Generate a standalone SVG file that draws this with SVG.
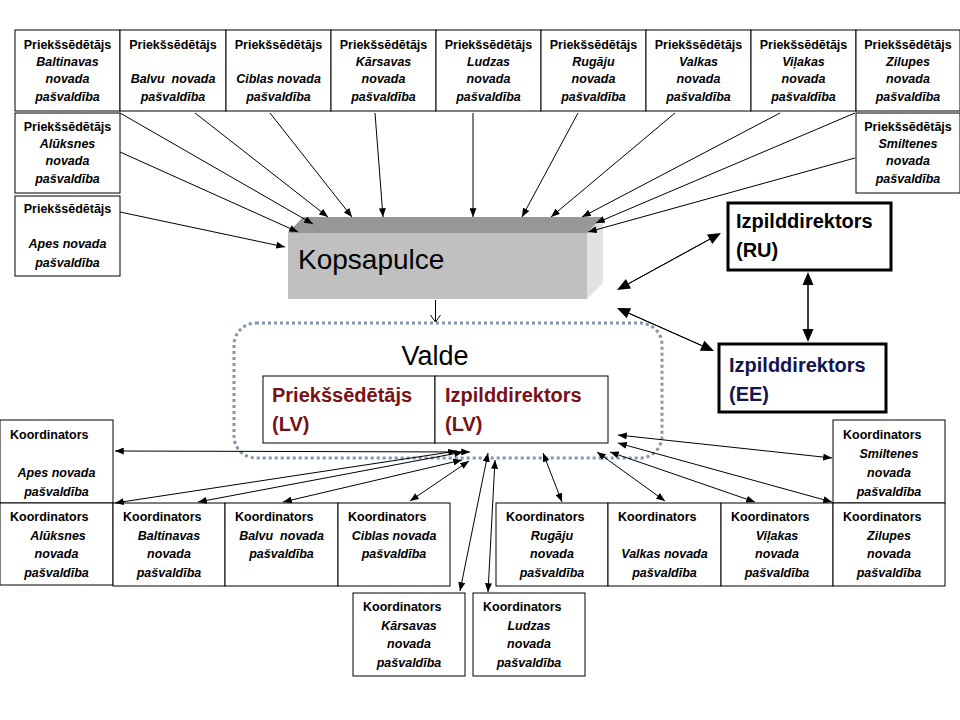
<svg xmlns="http://www.w3.org/2000/svg" width="960" height="720" viewBox="0 0 960 720">
<defs>
<marker id="a" viewBox="0 0 10 8" refX="10" refY="4" markerWidth="9" markerHeight="7" markerUnits="userSpaceOnUse" orient="auto-start-reverse">
<path d="M0,0 L10,4 L0,8 z" fill="#000"/>
</marker>
</defs>
<style>
.b{fill:#fff;stroke:#000;stroke-width:1}
.t{font-family:"Liberation Sans",Arial,sans-serif;font-size:12.5px;font-weight:bold;fill:#000;text-anchor:middle}
.k{font-family:"Liberation Sans",Arial,sans-serif;font-size:12.5px;font-weight:bold;fill:#000}
.i{font-style:italic}
.c line{stroke:#000;stroke-width:1}
.s{marker-start:url(#a);marker-end:url(#a)}
.e{marker-end:url(#a)}
.big{font-family:"Liberation Sans",Arial,sans-serif;font-weight:bold;font-size:20px}
</style>
<rect width="960" height="720" fill="#fff"/>

<!-- top row -->
<g id="p-baltinavas"><rect class="b" x="15" y="30" width="105" height="81"/><text class="t" x="67.5" y="49">Priekšsēdētājs</text><text class="t i" x="67.5" y="66">Baltinavas</text><text class="t i" x="67.5" y="83">novada</text><text class="t i" x="67.5" y="101">pašvaldība</text></g>
<g id="p-balvu"><rect class="b" x="120" y="30" width="106" height="81"/><text class="t" x="173" y="49">Priekšsēdētājs</text><text class="t i" x="173" y="83" xml:space="preserve">Balvu  novada</text><text class="t i" x="173" y="101">pašvaldība</text></g>
<g id="p-ciblas"><rect class="b" x="226" y="30" width="105" height="81"/><text class="t" x="278.5" y="49">Priekšsēdētājs</text><text class="t i" x="278.5" y="83">Ciblas novada</text><text class="t i" x="278.5" y="101">pašvaldība</text></g>
<g id="p-karsavas"><rect class="b" x="331" y="30" width="105" height="81"/><text class="t" x="383.5" y="49">Priekšsēdētājs</text><text class="t i" x="383.5" y="66">Kārsavas</text><text class="t i" x="383.5" y="83">novada</text><text class="t i" x="383.5" y="101">pašvaldība</text></g>
<g id="p-ludzas"><rect class="b" x="436" y="30" width="105" height="81"/><text class="t" x="488.5" y="49">Priekšsēdētājs</text><text class="t i" x="488.5" y="66">Ludzas</text><text class="t i" x="488.5" y="83">novada</text><text class="t i" x="488.5" y="101">pašvaldība</text></g>
<g id="p-rugaju"><rect class="b" x="541" y="30" width="105" height="81"/><text class="t" x="593.5" y="49">Priekšsēdētājs</text><text class="t i" x="593.5" y="66">Rugāju</text><text class="t i" x="593.5" y="83">novada</text><text class="t i" x="593.5" y="101">pašvaldība</text></g>
<g id="p-valkas"><rect class="b" x="646" y="30" width="105" height="81"/><text class="t" x="698.5" y="49">Priekšsēdētājs</text><text class="t i" x="698.5" y="66">Valkas</text><text class="t i" x="698.5" y="83">novada</text><text class="t i" x="698.5" y="101">pašvaldība</text></g>
<g id="p-vilakas"><rect class="b" x="751" y="30" width="105" height="81"/><text class="t" x="803.5" y="49">Priekšsēdētājs</text><text class="t i" x="803.5" y="66">Viļakas</text><text class="t i" x="803.5" y="83">novada</text><text class="t i" x="803.5" y="101">pašvaldība</text></g>
<g id="p-zilupes"><rect class="b" x="856" y="30" width="104" height="81"/><text class="t" x="908" y="49">Priekšsēdētājs</text><text class="t i" x="908" y="66">Zilupes</text><text class="t i" x="908" y="83">novada</text><text class="t i" x="908" y="101">pašvaldība</text></g>
<g id="p-aluksnes"><rect class="b" x="15" y="113" width="105" height="80"/><text class="t" x="67.5" y="131">Priekšsēdētājs</text><text class="t i" x="67.5" y="148">Alūksnes</text><text class="t i" x="67.5" y="165">novada</text><text class="t i" x="67.5" y="183">pašvaldība</text></g>
<g id="p-apes"><rect class="b" x="15" y="196" width="105" height="80"/><text class="t" x="67.5" y="213">Priekšsēdētājs</text><text class="t i" x="67.5" y="248">Apes novada</text><text class="t i" x="67.5" y="267">pašvaldība</text></g>
<g id="p-smiltenes"><rect class="b" x="856" y="113" width="104" height="80"/><text class="t" x="908" y="131">Priekšsēdētājs</text><text class="t i" x="908" y="148">Smiltenes</text><text class="t i" x="908" y="165">novada</text><text class="t i" x="908" y="183">pašvaldība</text></g>

<!-- Kopsapulce -->
<g id="kopsapulce">
<polygon points="288,233 303,217 603,217 587,233" fill="#979797"/>
<polygon points="587,233 603,217 603,283 587,299" fill="#e2e2e2"/>
<rect x="288" y="233" width="299" height="66" fill="#c0c0c0"/>
<text x="298" y="269" font-family="Liberation Sans, Arial, sans-serif" font-size="28" fill="#000">Kopsapulce</text>
</g>

<!-- Valde -->
<g id="valde">
<rect x="234" y="323" width="428" height="135" rx="22" fill="none" stroke="#8196b0" stroke-width="3" stroke-dasharray="3 3"/>
<text x="435" y="365" font-family="Liberation Sans, Arial, sans-serif" font-size="27" text-anchor="middle" fill="#000">Valde</text>
</g>
<g id="valde-priekssedetajs"><rect class="b" x="263" y="376" width="172" height="67"/><text class="big" x="272" y="402" fill="#7a1016">Priekšsēdētājs</text><text class="big" x="272" y="431" fill="#7a1016">(LV)</text></g>
<g id="valde-izpilddirektors"><rect class="b" x="435" y="376" width="173" height="67"/><text class="big" x="445" y="402" fill="#7a1016">Izpilddirektors</text><text class="big" x="445" y="431" fill="#7a1016">(LV)</text></g>

<!-- Izpilddirektori -->
<g id="izp-ru"><rect x="728" y="203" width="163" height="67" fill="#fff" stroke="#000" stroke-width="3"/><text class="big" x="736" y="228" fill="#000">Izpilddirektors</text><text class="big" x="736" y="257" fill="#000">(RU)</text></g>
<g id="izp-ee"><rect x="719" y="344" width="167" height="68" fill="#fff" stroke="#000" stroke-width="3"/><text class="big" x="729" y="372" fill="#14144f">Izpilddirektors</text><text class="big" x="729" y="401" fill="#14144f">(EE)</text></g>

<!-- coordinators -->
<g id="k-apes"><rect class="b" x="0" y="420" width="113" height="83"/><text class="k" x="10" y="439">Koordinators</text><text class="t i" x="56.5" y="477">Apes novada</text><text class="t i" x="56.5" y="496">pašvaldība</text></g>
<g id="k-smiltenes"><rect class="b" x="833" y="420" width="112" height="83"/><text class="k" x="843" y="439">Koordinators</text><text class="t i" x="889" y="458">Smiltenes</text><text class="t i" x="889" y="477">novada</text><text class="t i" x="889" y="496">pašvaldība</text></g>
<g id="k-aluksnes"><rect class="b" x="0" y="503" width="113" height="82"/><text class="k" x="10" y="521">Koordinators</text><text class="t i" x="58" y="540">Alūksnes</text><text class="t i" x="56.5" y="558">novada</text><text class="t i" x="56.5" y="577">pašvaldība</text></g>
<g id="k-baltinavas"><rect class="b" x="113" y="503" width="112" height="83"/><text class="k" x="123" y="521">Koordinators</text><text class="t i" x="169" y="540">Baltinavas</text><text class="t i" x="169" y="558">novada</text><text class="t i" x="169" y="577">pašvaldība</text></g>
<g id="k-balvu"><rect class="b" x="225" y="503" width="113" height="83"/><text class="k" x="235" y="521">Koordinators</text><text class="t i" x="281.5" y="540" xml:space="preserve">Balvu  novada</text><text class="t i" x="281.5" y="558">pašvaldība</text></g>
<g id="k-ciblas"><rect class="b" x="338" y="503" width="112" height="83"/><text class="k" x="348" y="521">Koordinators</text><text class="t i" x="394" y="540">Ciblas novada</text><text class="t i" x="394" y="558">pašvaldība</text></g>
<g id="k-rugaju"><rect class="b" x="496" y="503" width="112" height="83"/><text class="k" x="506" y="521">Koordinators</text><text class="t i" x="552" y="540">Rugāju</text><text class="t i" x="552" y="558">novada</text><text class="t i" x="552" y="577">pašvaldība</text></g>
<g id="k-valkas"><rect class="b" x="608" y="503" width="113" height="83"/><text class="k" x="618" y="521">Koordinators</text><text class="t i" x="664.5" y="558">Valkas novada</text><text class="t i" x="664.5" y="577">pašvaldība</text></g>
<g id="k-vilakas"><rect class="b" x="721" y="503" width="112" height="83"/><text class="k" x="731" y="521">Koordinators</text><text class="t i" x="777" y="540">Viļakas</text><text class="t i" x="777" y="558">novada</text><text class="t i" x="777" y="577">pašvaldība</text></g>
<g id="k-zilupes"><rect class="b" x="833" y="503" width="112" height="83"/><text class="k" x="843" y="521">Koordinators</text><text class="t i" x="889" y="540">Zilupes</text><text class="t i" x="889" y="558">novada</text><text class="t i" x="889" y="577">pašvaldība</text></g>
<g id="k-karsavas"><rect class="b" x="353" y="593" width="112" height="83"/><text class="k" x="363" y="611">Koordinators</text><text class="t i" x="409" y="630">Kārsavas</text><text class="t i" x="409" y="648">novada</text><text class="t i" x="409" y="667">pašvaldība</text></g>
<g id="k-ludzas"><rect class="b" x="473" y="593" width="112" height="83"/><text class="k" x="483" y="611">Koordinators</text><text class="t i" x="529" y="630">Ludzas</text><text class="t i" x="529" y="648">novada</text><text class="t i" x="529" y="667">pašvaldība</text></g>

<!-- connectors -->
<g id="connectors" class="c">
<line class="e" x1="120" y1="113" x2="313" y2="224"/>
<line class="e" x1="195" y1="113" x2="328" y2="217"/>
<line class="e" x1="270" y1="113" x2="352" y2="217"/>
<line class="e" x1="375" y1="113" x2="383" y2="217"/>
<line class="e" x1="473" y1="113" x2="473" y2="217"/>
<line class="e" x1="578" y1="113" x2="522" y2="217"/>
<line class="e" x1="675" y1="113" x2="551" y2="217"/>
<line class="e" x1="780" y1="113" x2="582" y2="217"/>
<line class="e" x1="855" y1="113" x2="596" y2="223"/>
<line class="e" x1="855" y1="158" x2="588" y2="232"/>
<line class="e" x1="120" y1="152" x2="298" y2="232"/>
<line class="e" x1="120" y1="212" x2="285" y2="247"/>

<line x1="435.5" y1="300" x2="435.5" y2="322"/>
<polyline points="430.5,315 435.5,322 440.5,315" fill="none" stroke="#000" stroke-width="1"/>

<line class="s" x1="115" y1="451" x2="470" y2="452"/>
<line class="s" x1="115" y1="503" x2="457" y2="451"/>
<line class="s" x1="198" y1="502" x2="463" y2="452"/>
<line class="s" x1="283" y1="502" x2="462" y2="460"/>
<line class="s" x1="410" y1="501" x2="469" y2="461"/>
<line class="s" x1="460" y1="591" x2="488" y2="453"/>
<line class="s" x1="488" y1="592" x2="495" y2="460"/>
<line class="s" x1="562" y1="502" x2="543" y2="453"/>
<line class="s" x1="665" y1="501" x2="597" y2="452"/>
<line class="s" x1="755" y1="502" x2="610" y2="452"/>
<line class="s" x1="832" y1="502" x2="618" y2="443"/>
<line class="s" x1="832" y1="458" x2="618" y2="435"/>

<g id="double-arrows">
<line x1="628.4" y1="283.8" x2="709.6" y2="239.3" stroke="#000" stroke-width="4.5"/>
<line x1="627.4" y1="284.3" x2="710.6" y2="238.7" stroke="#fff" stroke-width="1.5"/>
<polygon points="721,233 712.3,244.1 707,234.4" fill="#000"/>
<polygon points="617,290 631.1,288.6 625.8,278.9" fill="#000"/>
<line x1="628.9" y1="313.3" x2="702.1" y2="345.7" stroke="#000" stroke-width="4.5"/>
<line x1="627.9" y1="312.8" x2="703.1" y2="346.2" stroke="#fff" stroke-width="1.5"/>
<polygon points="714,351 699.9,350.8 704.4,340.7" fill="#000"/>
<polygon points="617,308 626.7,318.3 631.1,308.2" fill="#000"/>
<line x1="808" y1="285" x2="808" y2="329" stroke="#000" stroke-width="4.5"/>
<line x1="808" y1="284" x2="808" y2="330" stroke="#fff" stroke-width="1.5"/>
<polygon points="808,272 813.5,285 802.5,285" fill="#000"/>
<polygon points="808,342 813.5,329 802.5,329" fill="#000"/>
</g>
</g>
</svg>
